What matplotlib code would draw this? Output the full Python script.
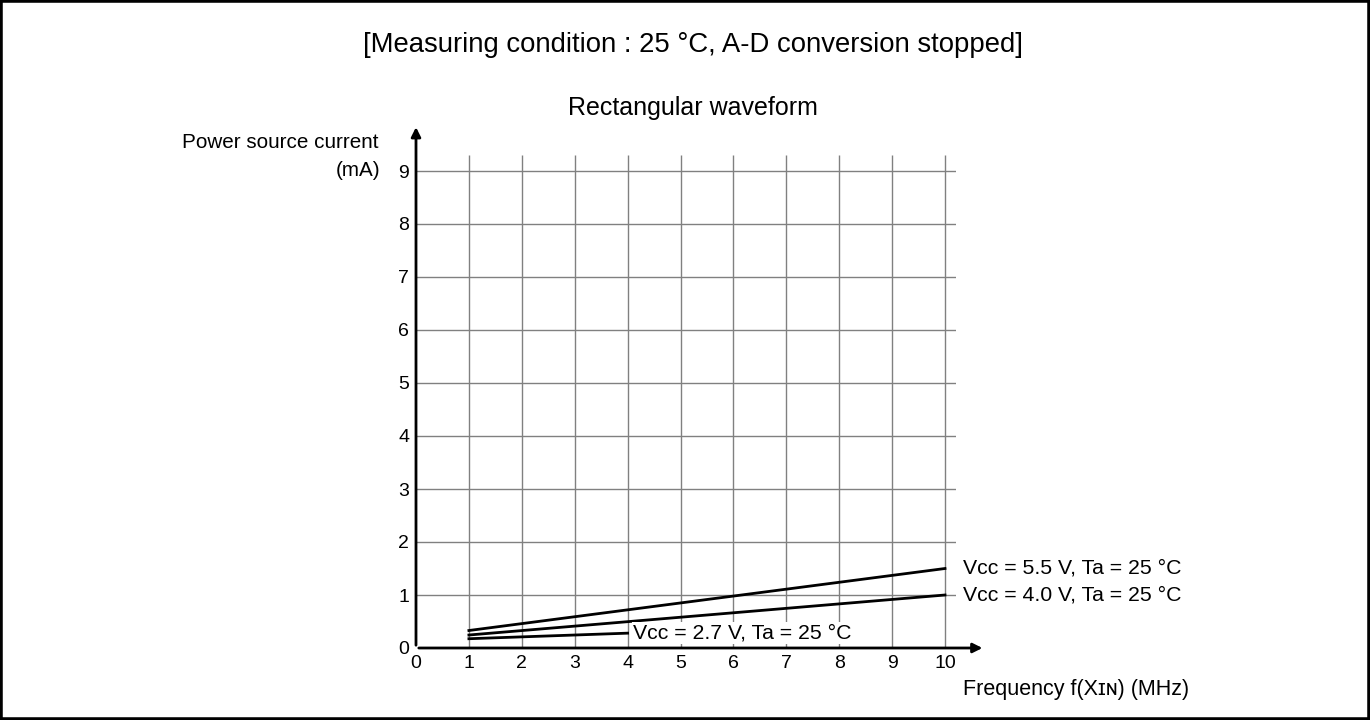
import matplotlib.pyplot as plt
from matplotlib.patches import Rectangle

plt.rcParams['font.family'] = ['Liberation Sans', 'DejaVu Sans']

# 데이터
freq_hi = [1, 10]
i_55 = [0.33, 1.5]      # Vcc = 5.5 V
i_40 = [0.245, 1.0]     # Vcc = 4.0 V
freq_lo = [1, 4]
i_27 = [0.175, 0.28]    # Vcc = 2.7 V
labels = ['Vcc = 5.5 V, Ta = 25 \u00b0C',
          'Vcc = 4.0 V, Ta = 25 \u00b0C',
          'Vcc = 2.7 V, Ta = 25 \u00b0C']
xticks = list(range(0, 11))
yticks = list(range(0, 10))

fig = plt.figure(figsize=(13.7, 7.2), dpi=100)
fig.patches.append(Rectangle((0, 0), 1, 1, transform=fig.transFigure,
                             fill=False, ec='black', lw=4))

xmax, ymax = 10.2, 9.3
ax = fig.add_axes([416 / 1370, 72 / 720, xmax * 52.9 / 1370, ymax * 53 / 720])
ax.set_xlim(0, xmax)
ax.set_ylim(0, ymax)
for s in ax.spines.values():
    s.set_visible(False)

# 격자
ax.vlines(xticks[1:], 0, ymax, color='#808080', lw=1, zorder=1)
ax.hlines(yticks[1:], 0, xmax, color='#808080', lw=1, zorder=1)

# 축 화살표
ax.annotate('', xy=(0, 9.88), xytext=(0, 0), annotation_clip=False,
            arrowprops=dict(arrowstyle='-|>', color='black', lw=2, mutation_scale=14))
ax.annotate('', xy=(10.76, 0), xytext=(0, 0), annotation_clip=False,
            arrowprops=dict(arrowstyle='-|>', color='black', lw=2, mutation_scale=14))

ax.set_xticks(xticks)
ax.set_yticks(yticks)
ax.tick_params(length=0, labelsize=14, pad=5)

# 곡선
ax.plot(freq_hi, i_55, color='black', lw=2, zorder=3)
ax.plot(freq_hi, i_40, color='black', lw=2, zorder=3)
ax.plot(freq_lo, i_27, color='black', lw=2, zorder=3)

fs = 15.3
ax.annotate(labels[0], (freq_hi[-1], i_55[-1]), xytext=(13, 0), textcoords='offset points',
            va='center', fontsize=fs)
ax.annotate(labels[1], (freq_hi[-1], i_40[-1]), xytext=(13, 0), textcoords='offset points',
            va='center', fontsize=fs)
ax.annotate(labels[2], (freq_lo[-1], i_27[-1]), xytext=(4, 0), textcoords='offset points',
            va='center', fontsize=fs, zorder=4,
            bbox=dict(fc='white', ec='none', pad=1))

fig.text(693 / 1370, 1 - 45 / 720, '[Measuring condition : 25 \u00b0C, A-D conversion stopped]',
         ha='center', va='center', fontsize=19.8)
fig.text(693 / 1370, 1 - 108 / 720, 'Rectangular waveform', ha='center', va='center', fontsize=18)
fig.text(378 / 1370, 1 - 142 / 720, 'Power source current', ha='right', va='center', fontsize=14.9)
fig.text(380 / 1370, 1 - 171 / 720, '(mA)', ha='right', va='center', fontsize=14.9)
fig.text(963 / 1370, 1 - 690 / 720, 'Frequency f(X\u026a\u0274) (MHz)',
         ha='left', va='center', fontsize=15.5)

fig.savefig('out.png', dpi=100)
